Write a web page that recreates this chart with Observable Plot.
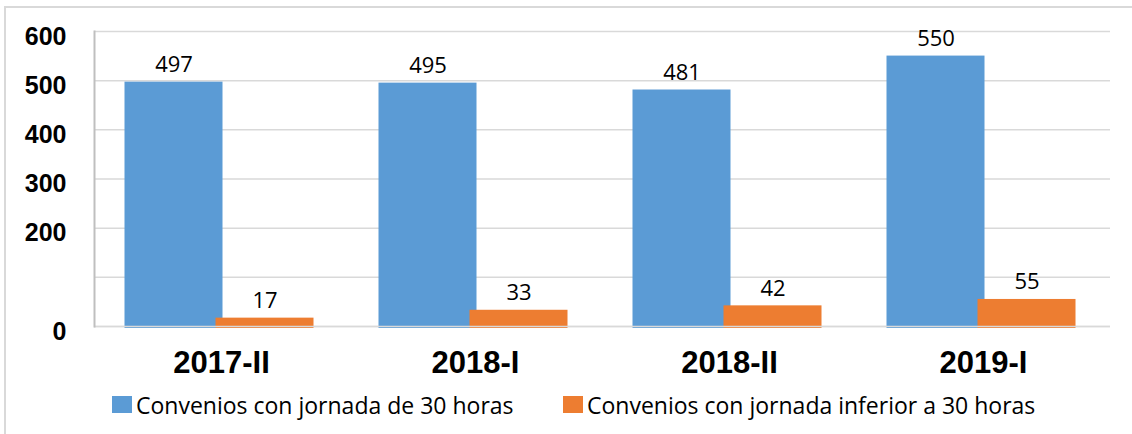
<!DOCTYPE html>
<html>
<head>
<meta charset="utf-8">
<script src="https://cdn.jsdelivr.net/npm/d3@7"></script>
<script src="https://cdn.jsdelivr.net/npm/@observablehq/plot@0.6"></script>
<style>
  html, body { margin: 0; padding: 0; background: #fff; }
  #wrap { position: relative; width: 1132px; height: 434px; overflow: hidden; background: #fff; color: #000; }
  #border { position: absolute; left: 4px; top: 6px; width: 1140px; height: 440px; border: 2px solid #d9d9d9; box-sizing: border-box; }
  #chart { position: absolute; left: 0; top: 0; }
  .leg { position: absolute; top: 394px; font-family: "Open Sans", sans-serif; font-size: 23px; line-height: 23px; white-space: nowrap; color: #000; }
  .sw { position: absolute; width: 20px; height: 17px; }
</style>
</head>
<body>
<div id="wrap">
  <div id="border"></div>
  <div id="chart"></div>
</div>
<script>
const periods = ["2017-II", "2018-I", "2018-II", "2019-I"];
const seriesNames = ["Convenios con jornada de 30 horas", "Convenios con jornada inferior a 30 horas"];
const seriesColors = ["#5B9BD5", "#ED7D31"];
const jornada30 = [497, 495, 481, 550];
const jornadaInferior30 = [17, 33, 42, 55];
const yGridValues = [0, 100, 200, 300, 400, 500, 600];
const yTickLabels = [600, 500, 400, 300, 200, 0];

const data = [];
periods.forEach((p, i) => {
  data.push({period: p, series: seriesNames[0], value: jornada30[i]});
  data.push({period: p, series: seriesNames[1], value: jornadaInferior30[i]});
});

const chart = Plot.plot({
  width: 1132,
  height: 380,
  marginTop: 31,
  marginBottom: 54,
  marginLeft: 92,
  marginRight: 21,
  style: {background: "transparent", color: "#000", overflow: "visible"},
  fx: {domain: periods, padding: 0, label: null},
  x: {domain: seriesNames, paddingInner: 0, paddingOuter: 0.385, axis: null},
  y: {domain: [0, 600], axis: null},
  color: {domain: seriesNames, range: seriesColors},
  marks: [
    Plot.gridY(yGridValues, {stroke: "#d9d9d9", strokeOpacity: 1, strokeWidth: 1.5}),
    Plot.barY(data, {fx: "period", x: "series", y: "value", fill: "series", insetLeft: -5.5, insetRight: -1.5, insetBottom: -2}),
    Plot.ruleY([0], {stroke: "#d9d9d9", strokeWidth: 1.5}),
    Plot.frame({anchor: "left", facetAnchor: "left", stroke: "#bfbfbf", strokeWidth: 2}),
    Plot.text(data, {fx: "period", x: "series", y: "value", text: d => String(d.value), lineAnchor: "bottom", dx: -2, dy: -10, fontSize: 22, fontFamily: "Open Sans", fill: "#000"}),
    Plot.axisY(yTickLabels, {anchor: "left", tickSize: 0, tickPadding: 28, fontSize: 25, fontWeight: "bold", fontFamily: "Liberation Sans", fill: "#000", dy: 5, label: null}),
    Plot.axisFx({anchor: "bottom", tickSize: 0, tickPadding: 24, fontSize: 31, fontWeight: "bold", fontFamily: "Liberation Sans", fill: "#000", label: null})
  ]
});
document.getElementById("chart").appendChild(chart);

// legend
const legendLefts = [112, 563];
const wrap = document.getElementById("wrap");
seriesNames.forEach((name, i) => {
  const sw = document.createElement("div");
  sw.className = "sw";
  sw.style.left = legendLefts[i] + "px";
  sw.style.top = "396px";
  sw.style.background = seriesColors[i];
  wrap.appendChild(sw);
  const t = document.createElement("div");
  t.className = "leg";
  t.style.left = (legendLefts[i] + 24) + "px";
  t.textContent = name;
  wrap.appendChild(t);
});
</script>
</body>
</html>
